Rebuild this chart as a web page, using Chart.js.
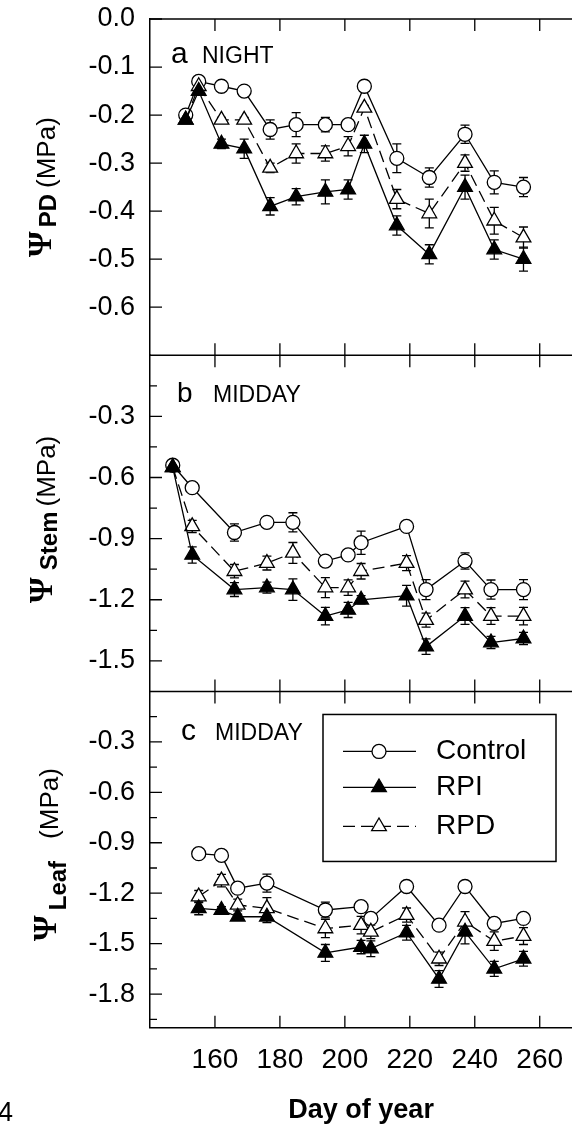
<!DOCTYPE html>
<html lang="en">
<head>
<meta charset="UTF-8">
<title>Water potential by day of year</title>
<script src="https://cdn.jsdelivr.net/npm/chart.js"></script>
<style>
    html, body { margin: 0; padding: 0; background: #fff; overflow: hidden; }
    .wrap { width: 572px; height: 1131px; overflow: hidden; position: relative; }
    canvas { display: block; }
</style>
</head>
<body>
<div class="wrap"><canvas id="psiChart" width="582" height="1131"></canvas></div>
<script>
// x axis
const xTicks = [160, 180, 200, 220, 240, 260];

// panel a: predawn (night)
const dayA = [151, 155, 162, 169, 177, 185, 194, 201, 206, 216, 226, 237, 246, 255];
const ctrlA = [-0.20, -0.13, -0.14, -0.15, -0.23, -0.22, -0.22, -0.22, -0.14, -0.29, -0.33, -0.24, -0.34, -0.35];
const ctrlAErr = [0.005, 0.005, 0.005, 0.005, 0.02, 0.025, 0.015, 0.01, 0.005, 0.03, 0.02, 0.019, 0.024, 0.02];
const rpiA = [-0.21, -0.15, -0.26, -0.27, -0.39, -0.37, -0.36, -0.355, -0.26, -0.43, -0.49, -0.35, -0.48, -0.50];
const rpiAErr = [0.005, 0.005, 0.01, 0.02, 0.018, 0.017, 0.025, 0.02, 0.018, 0.02, 0.02, 0.025, 0.02, 0.025];
const rpdA = [-0.21, -0.14, -0.21, -0.21, -0.31, -0.28, -0.28, -0.265, -0.185, -0.375, -0.405, -0.30, -0.42, -0.455];
const rpdAErr = [0.005, 0.005, 0.005, 0.005, 0.01, 0.02, 0.016, 0.02, 0.005, 0.02, 0.03, 0.017, 0.028, 0.022];

// panel b: midday stem
const dayB = [147, 153, 166, 176, 184, 194, 201, 205, 219, 225, 237, 245, 255];
const ctrlB = [-0.54, -0.65, -0.87, -0.82, -0.82, -1.01, -0.98, -0.92, -0.84, -1.15, -1.01, -1.15, -1.15];
const ctrlBErr = [0.01, 0.01, 0.042, 0.02, 0.047, 0.025, 0.015, 0.057, 0.01, 0.049, 0.04, 0.047, 0.049];
const rpiB = [-0.55, -0.98, -1.15, -1.14, -1.15, -1.28, -1.25, -1.20, -1.18, -1.43, -1.28, -1.41, -1.39];
const rpiBErr = [0.01, 0.04, 0.034, 0.027, 0.053, 0.043, 0.037, 0.02, 0.051, 0.038, 0.041, 0.03, 0.03];
const rpdB = [-0.55, -0.84, -1.06, -1.02, -0.97, -1.14, -1.14, -1.06, -1.02, -1.30, -1.15, -1.28, -1.28];
const rpdBErr = [0.01, 0.03, 0.033, 0.034, 0.051, 0.049, 0.038, 0.038, 0.037, 0.034, 0.041, 0.041, 0.043];

// panel c: midday leaf
const dayC = [155, 162, 167, 176, 194, 205, 208, 219, 229, 237, 246, 255];
const ctrlC = [-0.965, -0.975, -1.17, -1.14, -1.30, -1.28, -1.35, -1.16, -1.39, -1.16, -1.38, -1.35];
const ctrlCErr = [0.02, 0.02, 0.02, 0.054, 0.047, 0.02, 0.02, 0.02, 0.02, 0.02, 0.02, 0.02];
const rpiC = [-1.29, -1.30, -1.34, -1.34, -1.555, -1.52, -1.53, -1.435, -1.71, -1.43, -1.65, -1.59];
const rpiCErr = [0.038, 0.02, 0.015, 0.035, 0.05, 0.04, 0.047, 0.044, 0.05, 0.071, 0.045, 0.044];
const rpdC = [-1.22, -1.125, -1.27, -1.29, -1.41, -1.39, -1.43, -1.33, -1.59, -1.37, -1.485, -1.455];
const rpdCErr = [0.036, 0.037, 0.035, 0.064, 0.054, 0.052, 0.04, 0.042, 0.04, 0.06, 0.055, 0.05];

// y tick labels per panel
const ticksA = [0.0, -0.1, -0.2, -0.3, -0.4, -0.5, -0.6];
const ticksB = [-0.3, -0.6, -0.9, -1.2, -1.5];
const ticksC = [-0.3, -0.6, -0.9, -1.2, -1.5, -1.8];
const minorB = [-0.15, -0.45, -0.75, -1.05, -1.35];
const minorC = [-0.15, -0.45, -0.75, -1.05, -1.35, -1.65, -1.95];

const sans = '"Liberation Sans", Arial, Helvetica, sans-serif';

const seriesStyle = {
    control: { pointStyle: 'circle', radius: 7, fill: '#fff', dash: [] },
    rpi: { pointStyle: 'triangle', radius: 8.5, fill: '#000', dash: [] },
    rpd: { pointStyle: 'triangle', radius: 8.5, fill: '#fff', dash: [12, 6] }
};

const panels = [
    { axis: 'yA', min: -0.7, ticks: ticksA, minor: [], letter: 'a', word: 'NIGHT', letterSize: 30, letterX: 171, wordX: 202, base: 44,
      sub: 'PD', gap1: 4, gap2: 6, psiBase: 51, subBase: 56, unitBase: 55, shift: 0 },
    { axis: 'yB', min: -1.65, ticks: ticksB, minor: minorB, letter: 'b', word: 'MIDDAY', letterSize: 28, letterX: 177, wordX: 213, base: 47,
      sub: 'Stem', gap1: 7, gap2: 5, psiBase: 52, subBase: 57, unitBase: 55, shift: -4 },
    { axis: 'yC', min: -2.0, ticks: ticksC, minor: minorC, letter: 'c', word: 'MIDDAY', letterSize: 30, letterX: 181, wordX: 215, base: 49,
      sub: 'Leaf', gap1: 5, gap2: 22, psiBase: 56, subBase: 66, unitBase: 58, shift: -5 }
];

function makeSet(label, key, axis, days, vals, errs) {
    const s = seriesStyle[key];
    return {
        label: label,
        yAxisID: axis,
        data: days.map((d, i) => ({ x: d, y: vals[i] })),
        err: errs,
        borderColor: '#000',
        borderWidth: 1.3,
        borderDash: s.dash,
        pointStyle: s.pointStyle,
        pointRadius: s.radius,
        pointHoverRadius: s.radius,
        pointBackgroundColor: s.fill,
        pointBorderColor: '#000',
        pointBorderWidth: 1.3,
        tension: 0,
        fill: false
    };
}

const datasets = [
    makeSet('RPI', 'rpi', 'yA', dayA, rpiA, rpiAErr),
    makeSet('RPD', 'rpd', 'yA', dayA, rpdA, rpdAErr),
    makeSet('Control', 'control', 'yA', dayA, ctrlA, ctrlAErr),
    makeSet('RPI', 'rpi', 'yB', dayB, rpiB, rpiBErr),
    makeSet('RPD', 'rpd', 'yB', dayB, rpdB, rpdBErr),
    makeSet('Control', 'control', 'yB', dayB, ctrlB, ctrlBErr),
    makeSet('RPI', 'rpi', 'yC', dayC, rpiC, rpiCErr),
    makeSet('RPD', 'rpd', 'yC', dayC, rpdC, rpdCErr),
    makeSet('Control', 'control', 'yC', dayC, ctrlC, ctrlCErr)
];

// error bars drawn under the markers
const errorBars = {
    id: 'errorBars',
    beforeDatasetsDraw(chart) {
        const ctx = chart.ctx;
        const xs = chart.scales.x;
        ctx.save();
        ctx.strokeStyle = '#000';
        ctx.lineWidth = 1.3;
        chart.data.datasets.forEach(ds => {
            const ys = chart.scales[ds.yAxisID];
            ds.data.forEach((p, j) => {
                const e = ds.err[j];
                const px = xs.getPixelForValue(p.x);
                const y1 = ys.getPixelForValue(p.y + e);
                const y2 = ys.getPixelForValue(p.y - e);
                ctx.beginPath();
                ctx.moveTo(px, y1); ctx.lineTo(px, y2);
                ctx.moveTo(px - 4.5, y1); ctx.lineTo(px + 4.5, y1);
                ctx.moveTo(px - 4.5, y2); ctx.lineTo(px + 4.5, y2);
                ctx.stroke();
            });
        });
        ctx.restore();
    }
};

function marker(ctx, key, x, y) {
    const s = seriesStyle[key];
    ctx.beginPath();
    if (s.pointStyle === 'circle') {
        ctx.arc(x, y, s.radius, 0, Math.PI * 2);
    } else {
        const r = s.radius;
        ctx.moveTo(x, y - r);
        ctx.lineTo(x + Math.sin(2 * Math.PI / 3) * r, y + r / 2);
        ctx.lineTo(x - Math.sin(2 * Math.PI / 3) * r, y + r / 2);
        ctx.closePath();
    }
    ctx.fillStyle = s.fill;
    ctx.fill();
    ctx.setLineDash([]);
    ctx.stroke();
}

function drawYTitle(ctx, p, cy) {
    const psiFont = 'bold 33px "Liberation Serif", "DejaVu Serif", serif';
    const subFont = 'bold 24px ' + sans;
    const unitFont = '26px ' + sans;
    ctx.save();
    ctx.fillStyle = '#000';
    ctx.textAlign = 'left';
    ctx.textBaseline = 'alphabetic';
    ctx.font = psiFont;
    const wPsi = ctx.measureText('Ψ').width;
    ctx.font = subFont;
    const wSub = ctx.measureText(p.sub).width;
    ctx.font = unitFont;
    const wUnit = ctx.measureText('(MPa)').width;
    const total = wPsi + p.gap1 + wSub + p.gap2 + wUnit;
    ctx.translate(0, cy + total / 2 + p.shift);
    ctx.rotate(-Math.PI / 2);
    ctx.font = psiFont;
    ctx.fillText('Ψ', 0, p.psiBase);
    ctx.font = subFont;
    ctx.fillText(p.sub, wPsi + p.gap1, p.subBase);
    ctx.font = unitFont;
    ctx.fillText('(MPa)', wPsi + p.gap1 + wSub + p.gap2, p.unitBase);
    ctx.restore();
}

const frame = {
    id: 'frame',
    afterDatasetsDraw(chart) {
        const ctx = chart.ctx;
        const area = chart.chartArea;
        const xs = chart.scales.x;
        ctx.save();
        ctx.strokeStyle = '#000';
        panels.forEach(p => {
            const ys = chart.scales[p.axis];
            ctx.lineWidth = 1.5;
            ctx.beginPath();
            ctx.moveTo(area.left, ys.top);
            ctx.lineTo(area.right + 5, ys.top);
            ctx.stroke();

            ctx.lineWidth = 1.3;
            ctx.beginPath();
            xTicks.forEach(v => {
                const px = xs.getPixelForValue(v);
                ctx.moveTo(px, ys.top); ctx.lineTo(px, ys.top + 12);
                ctx.moveTo(px, ys.bottom); ctx.lineTo(px, ys.bottom - 12);
            });
            p.ticks.forEach(v => {
                const py = ys.getPixelForValue(v);
                ctx.moveTo(area.left, py); ctx.lineTo(area.left + 12, py);
            });
            p.minor.forEach(v => {
                const py = ys.getPixelForValue(v);
                ctx.moveTo(area.left, py); ctx.lineTo(area.left + 7, py);
            });
            ctx.stroke();

            // panel letter and time of day
            ctx.fillStyle = '#000';
            ctx.textAlign = 'left';
            ctx.textBaseline = 'alphabetic';
            ctx.font = p.letterSize + 'px ' + sans;
            ctx.fillText(p.letter, p.letterX, ys.top + p.base);
            ctx.font = '23px ' + sans;
            ctx.fillText(p.word, p.wordX, ys.top + p.base);

            drawYTitle(ctx, p, (ys.top + ys.bottom) / 2);
        });

        // legend in panel c
        const yc = chart.scales.yC;
        const bx = 323, by = yc.top + 23;
        ctx.lineWidth = 1.5;
        ctx.setLineDash([]);
        ctx.strokeRect(bx, by, 233, 147);
        const items = [['Control', 'control', 37], ['RPI', 'rpi', 73], ['RPD', 'rpd', 112]];
        items.forEach(([label, key, dy]) => {
            const y = by + dy;
            ctx.lineWidth = 1.3;
            ctx.setLineDash(seriesStyle[key].dash);
            ctx.beginPath();
            ctx.moveTo(bx + 20, y); ctx.lineTo(bx + 93, y);
            ctx.stroke();
            marker(ctx, key, bx + 56, y);
            ctx.fillStyle = '#000';
            ctx.font = '28px ' + sans;
            ctx.textBaseline = 'middle';
            ctx.fillText(label, bx + 113, y);
        });

        // stray label cut at the left edge
        ctx.textBaseline = 'alphabetic';
        ctx.font = '27px ' + sans;
        ctx.fillText('4', -2, 1121);
        ctx.restore();
    }
};

function yScale(p, weight) {
    return {
        type: 'linear',
        position: 'left',
        stack: 'psi',
        stackWeight: 1,
        weight: weight,
        min: p.min,
        max: 0,
        grid: { display: false, drawTicks: false },
        border: { display: true, color: '#000', width: 1.5 },
        ticks: {
            color: '#000',
            padding: 15,
            autoSkip: false,
            font: { family: sans, size: 27 },
            callback: v => v.toFixed(1)
        },
        afterBuildTicks: s => { s.ticks = p.ticks.map(v => ({ value: v })); },
        afterFit: s => { s.width = 150; s.paddingTop = 0; s.paddingBottom = 0; }
    };
}

new Chart(document.getElementById('psiChart'), {
    type: 'line',
    data: { datasets: datasets },
    options: {
        responsive: false,
        animation: false,
        events: [],
        layout: { padding: { top: 19, right: 3, bottom: 0, left: 0 } },
        plugins: { legend: { display: false }, tooltip: { enabled: false } },
        scales: {
            x: {
                type: 'linear',
                min: 140,
                max: 270,
                grid: { display: false, drawTicks: false },
                border: { display: true, color: '#000', width: 1.5 },
                ticks: { color: '#000', padding: 16, autoSkip: false, font: { family: sans, size: 28 } },
                title: {
                    display: true,
                    text: 'Day of year',
                    color: '#000',
                    font: { family: sans, size: 27, weight: 'bold' },
                    padding: { top: 0, bottom: 4 }
                },
                afterBuildTicks: s => { s.ticks = xTicks.map(v => ({ value: v })); },
                afterFit: s => { s.height = 103.3; s.paddingLeft = 0; s.paddingRight = 0; }
            },
            yA: yScale(panels[0], 3),
            yB: yScale(panels[1], 2),
            yC: yScale(panels[2], 1)
        }
    },
    plugins: [errorBars, frame]
});
</script>
</body>
</html>
